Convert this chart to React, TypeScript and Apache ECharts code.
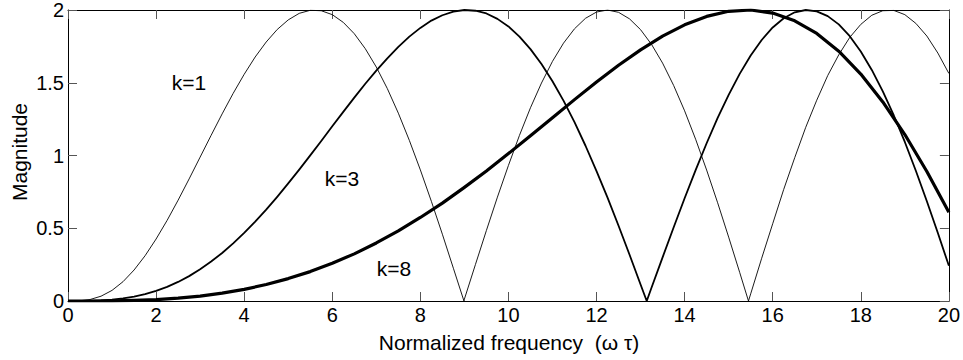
import React, { useEffect, useRef } from "react";
import * as echarts from "echarts";

// Normalized frequency samples (ω τ)
const freqFine = [
  0, 0.25, 0.5, 0.75, 1, 1.25, 1.5, 1.75, 2, 2.25, 2.5, 2.75, 3, 3.25, 3.5, 3.75,
  4, 4.25, 4.5, 4.75, 5, 5.25, 5.5, 5.75, 6, 6.25, 6.5, 6.75, 7, 7.25, 7.5, 7.75,
  8, 8.25, 8.5, 8.75, 9, 9.25, 9.5, 9.75, 10, 10.25, 10.5, 10.75, 11, 11.25, 11.5,
  11.75, 12, 12.25, 12.5, 12.75, 13, 13.25, 13.5, 13.75, 14, 14.25, 14.5, 14.75,
  15, 15.25, 15.5, 15.75, 16, 16.25, 16.5, 16.75, 17, 17.25, 17.5, 17.75, 18,
  18.25, 18.5, 18.75, 19, 19.25, 19.5, 19.75, 20,
];
const freqCoarse = [
  0, 0.5, 1, 1.5, 2, 2.5, 3, 3.5, 4, 4.5, 5, 5.5, 6, 6.5, 7, 7.5, 8, 8.5, 9, 9.5,
  10, 10.5, 11, 11.5, 12, 12.5, 13, 13.5, 14, 14.5, 15, 15.5, 16, 16.5, 17, 17.5,
  18, 18.5, 19, 19.5, 20,
];

// Magnitudes
const magK1 = [
  0, 0.001, 0.01, 0.033, 0.073, 0.133, 0.213, 0.311, 0.426, 0.554, 0.693, 0.839,
  0.989, 1.139, 1.286, 1.427, 1.558, 1.677, 1.78, 1.866, 1.932, 1.977, 1.998,
  1.995, 1.968, 1.915, 1.837, 1.734, 1.608, 1.46, 1.291, 1.104, 0.901, 0.685,
  0.459, 0.225, 0.013, 0.25, 0.485, 0.714, 0.932, 1.138, 1.328, 1.498, 1.647,
  1.772, 1.871, 1.943, 1.986, 2.0, 1.984, 1.939, 1.865, 1.763, 1.635, 1.482,
  1.307, 1.112, 0.9, 0.675, 0.439, 0.197, 0.049, 0.294, 0.531, 0.767, 0.985,
  1.194, 1.38, 1.55, 1.692, 1.812, 1.901, 1.964, 1.995, 1.997, 1.968, 1.908,
  1.821, 1.704, 1.564,
];
const magK3 = [
  0, 0.0, 0.001, 0.004, 0.009, 0.018, 0.03, 0.047, 0.07, 0.097, 0.131, 0.171,
  0.218, 0.271, 0.33, 0.396, 0.468, 0.545, 0.628, 0.716, 0.808, 0.903, 1.001,
  1.1, 1.201, 1.3, 1.398, 1.493, 1.583, 1.668, 1.747, 1.817, 1.877, 1.927, 1.964,
  1.989, 2.0, 1.995, 1.976, 1.939, 1.887, 1.817, 1.731, 1.629, 1.51, 1.377,
  1.229, 1.067, 0.893, 0.71, 0.517, 0.318, 0.113, 0.093, 0.3, 0.505, 0.706, 0.9,
  1.084, 1.258, 1.417, 1.561, 1.687, 1.794, 1.88, 1.943, 1.984, 2.0, 1.991,
  1.958, 1.901, 1.82, 1.715, 1.588, 1.441, 1.275, 1.093, 0.895, 0.686, 0.467,
  0.242,
];
const magK8 = [
  0, 0.0, 0.001, 0.004, 0.01, 0.02, 0.034, 0.054, 0.08, 0.113, 0.154, 0.202,
  0.259, 0.324, 0.399, 0.482, 0.574, 0.673, 0.781, 0.894, 1.013, 1.136, 1.26,
  1.384, 1.505, 1.62, 1.726, 1.82, 1.898, 1.956, 1.991, 2.0, 1.979, 1.926, 1.839,
  1.717, 1.56, 1.368, 1.144, 0.89, 0.61,
];

// Frequencies where the magnitude touches zero (sharp notches)
const notchesK1 = [8.99, 15.45];
const notchesK3 = [13.14];
const notchesK8: number[] = [];

const curveNames = ["k=1", "k=3", "k=8"];
const xTitle = "Normalized frequency  (ω τ)";
const yTitle = "Magnitude";

const xMin = 0;
const xMax = 20;
const xStep = 2;
const yMin = 0;
const yMax = 2;
const yStep = 0.5;

const FONT = "'Liberation Sans', Arial, Helvetica, sans-serif";

function buildData(xs: number[], ys: number[], notches: number[]) {
  const pts: number[][] = [];
  const sorted = [...notches].sort((a, b) => a - b);
  let ni = 0;
  for (let i = 0; i < xs.length; i++) {
    while (ni < sorted.length && sorted[ni] < xs[i]) {
      pts.push([sorted[ni], 0]);
      ni++;
    }
    pts.push([xs[i], ys[i]]);
  }
  return pts;
}

export default function App() {
  const ref = useRef<HTMLDivElement>(null);

  useEffect(() => {
    if (!ref.current) return;
    const chart = echarts.init(ref.current, undefined, { renderer: "svg" });

    const axisCommon = {
      type: "value" as const,
      splitLine: { show: false },
      axisLine: { show: true, onZero: false, lineStyle: { color: "#000", width: 1 } },
      axisTick: { show: true, inside: true, length: 9, lineStyle: { color: "#555", width: 1 } },
    };

    const widths = [0.9, 1.8, 3.2];
    const datasets = [
      buildData(freqFine, magK1, notchesK1),
      buildData(freqFine, magK3, notchesK3),
      buildData(freqCoarse, magK8, notchesK8),
    ];

    const labelPos = [
      { x: 189, y: 82 },
      { x: 342, y: 178.5 },
      { x: 394, y: 268 },
    ];

    chart.setOption({
      animation: false,
      backgroundColor: "#fff",
      grid: { left: 68, right: 14, top: 8, bottom: 59, containLabel: false },
      xAxis: [
        {
          ...axisCommon,
          position: "bottom",
          min: xMin,
          max: xMax,
          interval: xStep,
          axisLabel: { color: "#000", fontSize: 20, fontFamily: FONT, margin: 4 },
        },
        {
          ...axisCommon,
          position: "top",
          min: xMin,
          max: xMax,
          interval: xStep,
          axisLabel: { show: false },
        },
      ],
      yAxis: [
        {
          ...axisCommon,
          position: "left",
          min: yMin,
          max: yMax,
          interval: yStep,
          axisLabel: { color: "#000", fontSize: 20, fontFamily: FONT, margin: 4 },
        },
        {
          ...axisCommon,
          position: "right",
          min: yMin,
          max: yMax,
          interval: yStep,
          axisLabel: { show: false },
        },
      ],
      series: datasets.map((data, i) => ({
        type: "line",
        name: curveNames[i],
        xAxisIndex: 0,
        yAxisIndex: 0,
        data,
        showSymbol: false,
        symbol: "none",
        smooth: false,
        lineStyle: { color: "#000", width: widths[i], join: "round" },
        z: 3 + i,
      })),
      graphic: [
        ...labelPos.map((p, i) => ({
          type: "text",
          x: p.x,
          y: p.y,
          z: 10,
          style: {
            text: curveNames[i],
            fill: "#000",
            font: `21px ${FONT}`,
            align: "center",
            verticalAlign: "middle",
          },
        })),
        {
          type: "text",
          x: 509,
          y: 342,
          z: 10,
          style: {
            text: xTitle,
            fill: "#000",
            font: `21px ${FONT}`,
            align: "center",
            verticalAlign: "middle",
          },
        },
        {
          type: "text",
          x: 19.5,
          y: 152,
          rotation: Math.PI / 2,
          z: 10,
          style: {
            text: yTitle,
            fill: "#000",
            font: `21px ${FONT}`,
            align: "center",
            verticalAlign: "middle",
          },
        },
      ],
    });

    return () => chart.dispose();
  }, []);

  return (
    <div
      ref={ref}
      style={{ position: "fixed", left: 0, top: 0, width: 963, height: 360, background: "#fff" }}
    />
  );
}
